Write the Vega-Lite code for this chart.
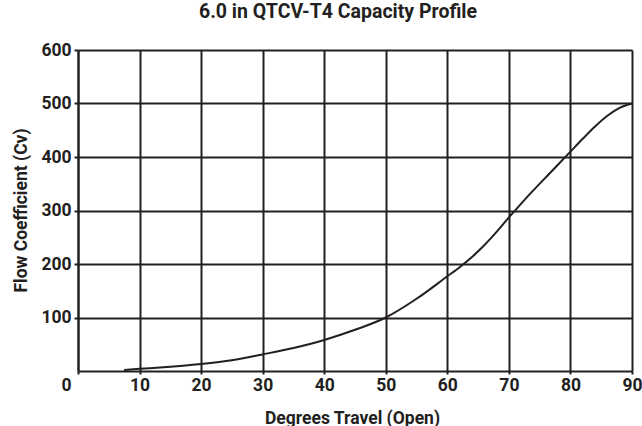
{
  "$schema": "https://vega.github.io/schema/vega-lite/v6.json",
  "autosize": {"type": "none"},
  "padding": {"left": 78, "top": 50, "right": 10, "bottom": 55},
  "width": 554,
  "height": 321,
  "background": "white",
  "title": {
    "text": "6.0 in QTCV-T4 Capacity Profile",
    "font": "Roboto",
    "fontSize": 19.5,
    "fontWeight": "bold",
    "color": "#231f20",
    "anchor": "middle",
    "dx": -17,
    "offset": 19
  },
  "config": {
    "view": {"stroke": null},
    "axis": {
      "labelFont": "Roboto",
      "titleFont": "Roboto",
      "labelFontWeight": "bold",
      "titleFontWeight": "bold",
      "labelFontSize": 17.5,
      "titleFontSize": 17.5,
      "labelColor": "#231f20",
      "titleColor": "#231f20",
      "gridColor": "#231f20",
      "gridWidth": 2,
      "gridOpacity": 1,
      "domainColor": "#231f20",
      "domainWidth": 2,
      "tickColor": "#231f20",
      "tickWidth": 2
    }
  },
  "data": {
    "values": [
      {"deg": 7.5, "cv": 2},
      {"deg": 10, "cv": 4},
      {"deg": 15, "cv": 8},
      {"deg": 20, "cv": 13},
      {"deg": 25, "cv": 20},
      {"deg": 30, "cv": 31},
      {"deg": 35, "cv": 43},
      {"deg": 40, "cv": 58},
      {"deg": 45, "cv": 77},
      {"deg": 50, "cv": 100},
      {"deg": 55, "cv": 135},
      {"deg": 60, "cv": 177},
      {"deg": 62, "cv": 194},
      {"deg": 64, "cv": 213},
      {"deg": 66, "cv": 235},
      {"deg": 68, "cv": 260},
      {"deg": 70, "cv": 287},
      {"deg": 72, "cv": 313},
      {"deg": 74, "cv": 338},
      {"deg": 76, "cv": 362},
      {"deg": 78, "cv": 386},
      {"deg": 80, "cv": 410},
      {"deg": 82, "cv": 434},
      {"deg": 84, "cv": 457},
      {"deg": 86, "cv": 477},
      {"deg": 88, "cv": 492},
      {"deg": 90, "cv": 500}
    ]
  },
  "mark": {"type": "line", "color": "#231f20", "strokeWidth": 2, "interpolate": "monotone"},
  "encoding": {
    "x": {
      "field": "deg",
      "type": "quantitative",
      "scale": {"domain": [0, 90], "nice": false, "zero": true},
      "axis": {
        "title": "Degrees Travel (Open)",
        "values": [0, 10, 20, 30, 40, 50, 60, 70, 80, 90],
        "tickSize": 3,
        "labelPadding": 2,
        "labelBaseline": "top",
        "labelOffset": {"condition": {"test": "datum.value == 0", "value": -12}, "value": 0},
        "labelFlush": false,
        "labelOverlap": false,
        "titleBaseline": "alphabetic",
        "titleY": 52,
        "titleX": 274
      }
    },
    "y": {
      "field": "cv",
      "type": "quantitative",
      "scale": {"domain": [0, 600], "nice": false},
      "axis": {
        "title": "Flow Coefficient (Cv)",
        "values": [100, 200, 300, 400, 500, 600],
        "tickSize": 4,
        "labelPadding": 3,
        "labelFlush": false,
        "labelOverlap": false,
        "titleBaseline": "alphabetic",
        "titleAngle": -90,
        "titleX": -52,
        "titleY": 160,
        "titleAlign": "center"
      }
    }
  }
}
